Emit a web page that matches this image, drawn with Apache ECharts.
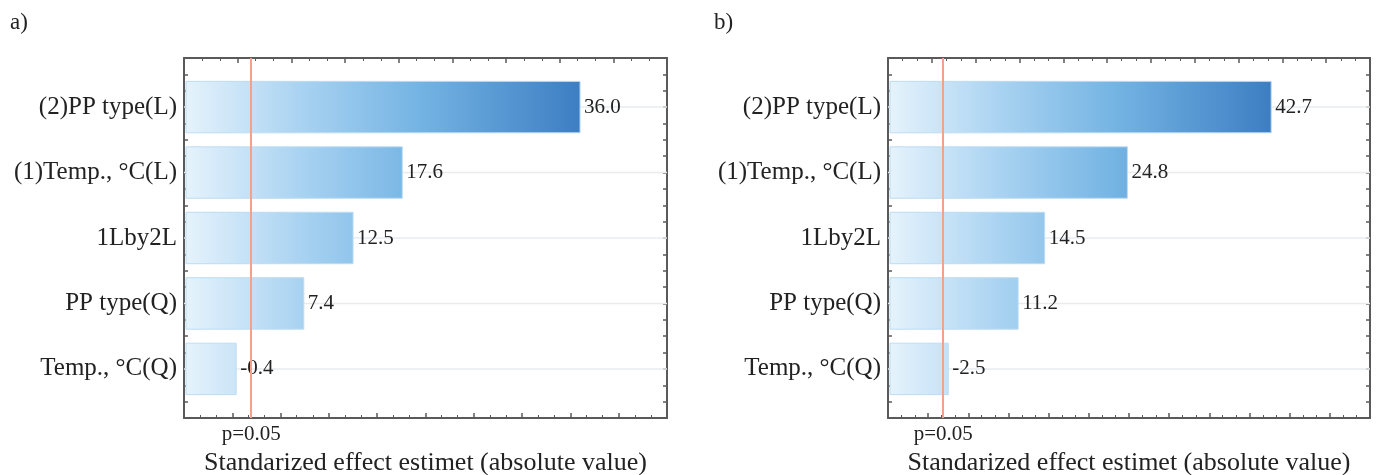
<!DOCTYPE html>
<html>
<head>
<meta charset="utf-8">
<script src="https://cdn.jsdelivr.net/npm/echarts@6/dist/echarts.min.js"></script>
<style>
html,body{margin:0;padding:0;background:#fff;}
#chart{width:1376px;height:475px;}
</style>
</head>
<body>
<div id="chart"></div>
<script>
// ---- data ----
const categories = ['(2)PP type(L)', '(1)Temp., \u00B0C(L)', '1Lby2L', 'PP type(Q)', 'Temp., \u00B0C(Q)'];
const valuesA = [36.0, 17.6, 12.5, 7.4, -0.4];
const valuesB = [42.7, 24.8, 14.5, 11.2, -2.5];
const pCritA = 1.96;
const pCritB = 1.87;
const pLabel = 'p=0.05';
const panelLabels = ['a)', 'b)'];
const axisTitle = 'Standarized effect estimet (absolute value)';

// ---- styling ----
const FONT = '"Liberation Serif", "DejaVu Serif", serif';
const FRAME = '#5a5a5a';
const RED = '#f3a08f';
const BAR_H = 0.786;

const xRangeA = [-5, 45];
const xRangeB = [-5, 55];
const topRangeA = [-1, 8];
const topRangeB = [-1, 10];

const chart = echarts.init(document.getElementById('chart'));

function grads() {
  return [
    { offset: 0, color: '#e6f3fc' },
    { offset: 0.3, color: '#a8d2f1' },
    { offset: 0.6, color: '#73b3e3' },
    { offset: 1, color: '#3d7ec3' }
  ];
}

function barSeries(idx, values, xr) {
  const maxAbs = Math.max(...values.map(Math.abs));
  return {
    type: 'custom',
    xAxisIndex: idx * 2,
    yAxisIndex: idx * 2,
    z: 3,
    data: values.map((v, i) => [Math.abs(v), i + 1, v]),
    encode: { x: 0, y: 1 },
    renderItem: function (params, api) {
      const v = api.value(0), y = api.value(1), raw = api.value(2);
      const p0 = api.coord([xr[0], y]);
      const p1 = api.coord([v, y]);
      const pEnd = api.coord([xr[1], y]);
      const pMax = api.coord([maxAbs, y]);
      const h = api.size([0, BAR_H])[1];
      return {
        type: 'group',
        children: [
          { type: 'line', shape: { x1: p0[0], y1: p0[1], x2: pEnd[0], y2: p0[1] },
            style: { stroke: '#e9ecef', lineWidth: 1.5 }, z2: 0 },
          { type: 'rect', shape: { x: p0[0] + 2, y: p0[1] - h / 2, width: p1[0] - p0[0] - 2, height: h },
            style: { fill: new echarts.graphic.LinearGradient(p0[0], 0, pMax[0], 0, grads(), true),
                     stroke: '#bcdcf3', lineWidth: 1 }, z2: 1 },
          { type: 'text', x: p1[0] + 4, y: p1[1],
            style: { text: raw.toFixed(1), font: '21px ' + FONT, fill: '#222',
                     verticalAlign: 'middle', align: 'left' }, z2: 3 }
        ]
      };
    }
  };
}

function redLine(idx, pc) {
  return {
    type: 'line', xAxisIndex: idx * 2, yAxisIndex: idx * 2, data: [], z: 4,
    markLine: {
      silent: true, symbol: 'none', animation: false,
      lineStyle: { color: RED, width: 2, type: 'solid' },
      label: { show: false },
      data: [{ xAxis: pc }]
    }
  };
}

function xAxes(gi, xr, tr, pc) {
  return [
    { gridIndex: gi, type: 'value', position: 'bottom', min: xr[0], max: xr[1], interval: 5,
      axisLine: { show: true, onZero: false, lineStyle: { color: FRAME, width: 2 } },
      axisTick: { show: true, inside: true, length: 5, lineStyle: { color: FRAME, width: 1.5 } },
      minorTick: { show: true, splitNumber: 3, length: 3, lineStyle: { color: FRAME, width: 1 } },
      splitLine: { show: false },
      axisLabel: { show: true, customValues: [pc], formatter: () => pLabel,
                   fontFamily: FONT, fontSize: 21, color: '#222', margin: 6 },
      name: axisTitle, nameLocation: 'middle', nameGap: 32,
      nameTextStyle: { fontFamily: FONT, fontSize: 26, color: '#222' } },
    { gridIndex: gi, type: 'value', position: 'top', min: tr[0], max: tr[1], interval: 1,
      axisLine: { show: true, onZero: false, lineStyle: { color: FRAME, width: 2 } },
      axisTick: { show: true, inside: true, length: 5, lineStyle: { color: FRAME, width: 1.5 } },
      minorTick: { show: true, splitNumber: 3, length: 3, lineStyle: { color: FRAME, width: 1 } },
      splitLine: { show: false }, axisLabel: { show: false } }
  ];
}

function yAxes(gi) {
  return [
    { gridIndex: gi, type: 'value', position: 'left', inverse: true, min: 0.25, max: 5.75, interval: 0.25,
      axisLine: { show: true, onZero: false, lineStyle: { color: FRAME, width: 2 } },
      axisTick: { show: true, inside: true, length: 4, lineStyle: { color: FRAME, width: 1.5 } },
      splitLine: { show: false },
      axisLabel: { show: true, margin: 7, fontFamily: FONT, fontSize: 25, color: '#222',
                   formatter: v => (Math.abs(v - Math.round(v)) < 1e-6 && v >= 1 && v <= categories.length) ? categories[Math.round(v) - 1] : '' } },
    { gridIndex: gi, type: 'value', position: 'right', inverse: true, min: 0.25, max: 5.75, interval: 0.25,
      axisLine: { show: true, onZero: false, lineStyle: { color: FRAME, width: 2 } },
      axisTick: { show: true, inside: true, length: 4, lineStyle: { color: FRAME, width: 1.5 } },
      splitLine: { show: false }, axisLabel: { show: false } }
  ];
}

const option = {
  animation: false,
  backgroundColor: '#fff',
  title: [
    { text: panelLabels[0], left: 5, top: 6, textStyle: { fontFamily: FONT, fontSize: 23, fontWeight: 'normal', color: '#222' } },
    { text: panelLabels[1], left: 709, top: 6, textStyle: { fontFamily: FONT, fontSize: 23, fontWeight: 'normal', color: '#222' } }
  ],
  grid: [
    { left: 184, right: 709, top: 58, bottom: 57, outerBoundsMode: 'none', containLabel: false },
    { left: 888, right: 6, top: 58, bottom: 57, outerBoundsMode: 'none', containLabel: false }
  ],
  xAxis: [].concat(xAxes(0, xRangeA, topRangeA, pCritA), xAxes(1, xRangeB, topRangeB, pCritB)),
  yAxis: [].concat(yAxes(0), yAxes(1)),
  series: [
    barSeries(0, valuesA, xRangeA),
    barSeries(1, valuesB, xRangeB),
    redLine(0, pCritA),
    redLine(1, pCritB)
  ]
};
chart.setOption(option);
</script>
</body>
</html>
